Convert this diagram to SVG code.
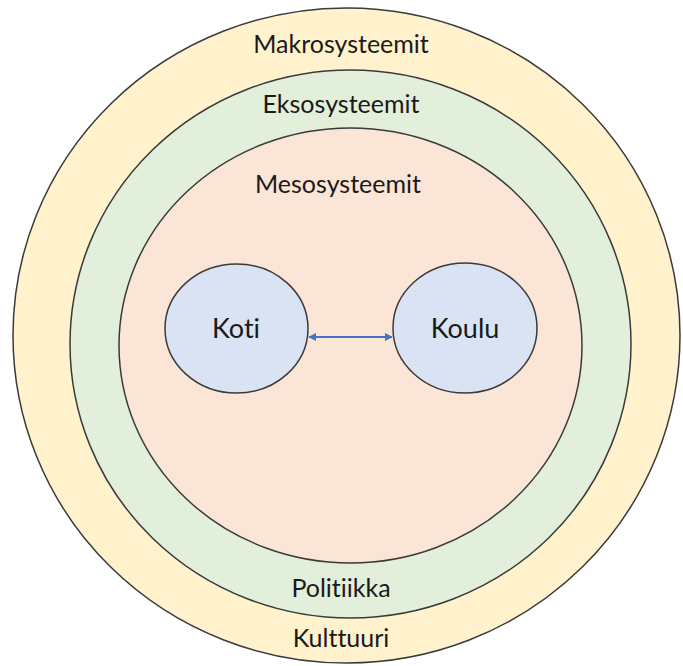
<svg xmlns="http://www.w3.org/2000/svg" width="683" height="666" viewBox="0 0 683 666">
<style>
.ring{stroke:#3a3a3a;stroke-width:1.5}
.lbl{font-family:Lato,"Open Sans",sans-serif;font-size:25px;fill:#1a1a1a;text-anchor:middle;font-variant-ligatures:none;font-feature-settings:"liga" 0,"dlig" 0}
.nlbl{font-family:Lato,"Open Sans",sans-serif;font-size:27px;fill:#1a1a1a;text-anchor:middle;font-variant-ligatures:none;font-feature-settings:"liga" 0,"dlig" 0}
.node{fill:#DAE3F3;stroke:#3a3a3a;stroke-width:1.5}
</style>
<defs>
<marker id="ah" viewBox="0 0 10 10" refX="9" refY="5" markerWidth="4" markerHeight="4" orient="auto-start-reverse" markerUnits="strokeWidth">
<path d="M0,0 L10,5 L0,10 z" fill="#4472C4"/>
</marker>
</defs>
<rect width="683" height="666" fill="#ffffff"/>
<g id="makro">
<ellipse class="ring" cx="346.5" cy="335.5" rx="333.5" ry="327.5" fill="#FFF2CC"/>
<text class="lbl" x="341" y="53">Makrosysteemit</text>
<text class="lbl" x="341" y="647">Kulttuuri</text>
</g>
<g id="ekso">
<ellipse class="ring" cx="350.5" cy="344" rx="280.5" ry="274" fill="#E2EFDA"/>
<text class="lbl" x="341" y="113">Eksosysteemit</text>
<text class="lbl" x="341" y="597">Politiikka</text>
</g>
<g id="meso">
<ellipse class="ring" cx="350.5" cy="345.5" rx="231.5" ry="217.5" fill="#FBE5D6"/>
<text class="lbl" x="338" y="193">Mesosysteemit</text>
</g>
<g id="koti">
<ellipse class="node" cx="236.5" cy="328.5" rx="71.5" ry="64.5"/>
<text class="nlbl" x="236" y="338">Koti</text>
</g>
<g id="koulu">
<ellipse class="node" cx="465" cy="328" rx="72" ry="65"/>
<text class="nlbl" x="465" y="338">Koulu</text>
</g>
<g id="connectors">
<line x1="309" y1="337" x2="392" y2="337" stroke="#4472C4" stroke-width="2" marker-start="url(#ah)" marker-end="url(#ah)"/>
</g>
</svg>
